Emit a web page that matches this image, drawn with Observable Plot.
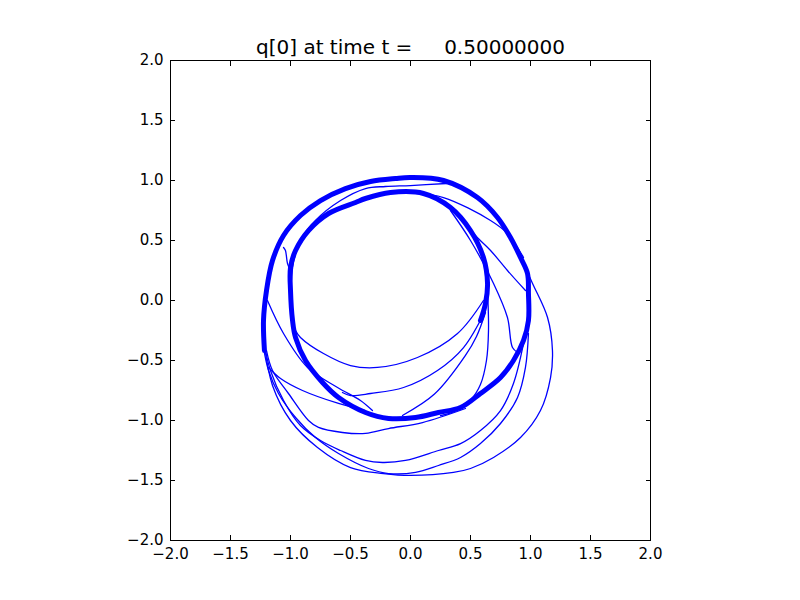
<!DOCTYPE html>
<html><head><meta charset="utf-8">
<script src="https://cdn.jsdelivr.net/npm/d3@7"></script>
<script src="https://cdn.jsdelivr.net/npm/@observablehq/plot@0.6"></script>
<style>body{margin:0;background:#fff} svg text{white-space:pre}</style>
</head><body><div id="chart"></div>
<script>
const xTicks = [-2, -1.5, -1, -0.5, 0, 0.5, 1, 1.5, 2];
const yTicks = [-2, -1.5, -1, -0.5, 0, 0.5, 1, 1.5, 2];
const titleText = "q[0] at time t =     0.50000000";

// thick bundle of coinciding contours (spiral from outer left to inner right)
const spiralThick = [[-1.217,-0.417],[-1.225,-0.167],[-1.2,0.083],[-1.15,0.333],[-1.058,0.542],[-0.917,0.708],[-0.75,0.833],[-0.542,0.933],[-0.333,0.992],[-0.125,1.017],[0,1.025],[0.275,1.0],[0.558,0.858],[0.725,0.692],[0.833,0.525],[0.917,0.358],[0.975,0.225],[0.983,0.058],[0.983,-0.167],[0.942,-0.333],[0.858,-0.5],[0.75,-0.642],[0.583,-0.775],[0.417,-0.892],[0.233,-0.933],[0.042,-0.975],[-0.183,-0.983],[-0.375,-0.933],[-0.6,-0.808],[-0.733,-0.683],[-0.875,-0.5],[-0.958,-0.308],[-0.983,-0.167],[-1.0,0.083],[-1.0,0.275],[-0.958,0.417],[-0.85,0.583],[-0.683,0.725],[-0.458,0.817],[-0.375,0.85],[-0.167,0.9],[0.108,0.892],[0.333,0.775],[0.5,0.583],[0.608,0.358],[0.642,0.142],[0.625,-0.025],[0.583,-0.167]];

// thin contour lines
const curveA = [[0.608,0],[0.392,-0.275],[0.058,-0.475],[-0.275,-0.558],[-0.5,-0.542],[-0.725,-0.442],[-0.917,-0.308],[-0.958,-0.25]];
const curveB = [[0.625,-0.083],[0.442,-0.392],[0.225,-0.583],[-0.058,-0.725],[-0.333,-0.775],[-0.5,-0.792],[-0.567,-0.767]];
const curveB2 = [[0.625,-0.1],[0.55,-0.3],[0.458,-0.458],[0.2,-0.78],[-0.067,-0.958]];
const curveC = [[0.642,0.083],[0.65,-0.25],[0.633,-0.5],[0.583,-0.7],[0.5,-0.83],[0.375,-0.92],[0.25,-0.96]];
const curveD = [[0.333,0.75],[0.5,0.5],[0.692,0.142],[0.808,-0.142],[0.85,-0.392],[0.892,-0.433]];
const curveE1 = [[0.042,0.892],[0.275,0.858],[0.667,0.667],[0.808,0.558],[0.942,0.358]];
const curveE2 = [[0.417,0.708],[0.525,0.558],[0.667,0.417],[0.808,0.25],[0.958,0.083]];
const curveF = [[0.3,0.975],[0,0.958],[-0.208,0.95],[-0.375,0.933],[-0.583,0.833],[-0.792,0.667],[-0.917,0.5],[-0.975,0.317],[-0.992,0.167]];
const curveKink = [[-1.058,0.442],[-1.042,0.417],[-1.025,0.308],[-1.0,0.25]];
const curveG = [[0.917,0.358],[1.017,0.142],[1.142,-0.142],[1.183,-0.417],[1.167,-0.642],[1.083,-0.917],[0.917,-1.142],[0.692,-1.308],[0.5,-1.4],[0.358,-1.433],[0,-1.458],[-0.225,-1.442],[-0.5,-1.392],[-0.775,-1.225],[-1.0,-1.0],[-1.15,-0.708],[-1.217,-0.375]];
const curveH = [[0.983,-0.275],[0.958,-0.558],[0.892,-0.808],[0.75,-1.025],[0.583,-1.192],[0.417,-1.308],[0.233,-1.375],[0.042,-1.433],[-0.183,-1.442],[-0.35,-1.4],[-0.6,-1.275],[-0.792,-1.142],[-0.958,-0.975],[-1.1,-0.775],[-1.183,-0.583],[-1.225,-0.392]];
const curveI = [[0.942,-0.358],[0.858,-0.692],[0.75,-0.917],[0.583,-1.083],[0.417,-1.192],[0.233,-1.25],[-0.042,-1.333],[-0.233,-1.35],[-0.375,-1.333],[-0.583,-1.25],[-0.75,-1.167],[-0.917,-1.042],[-1.058,-0.833],[-1.167,-0.583],[-1.217,-0.375]];
const curveJ = [[-1.2,-0.417],[-1.15,-0.583],[-1.017,-0.775],[-0.85,-1.0],[-0.767,-1.058],[-0.567,-1.1],[-0.375,-1.108],[-0.183,-1.067],[0.1,-1.017],[0.458,-0.9]];
const curveK1 = [[-1.192,0],[-1.058,-0.275],[-0.858,-0.558],[-0.608,-0.725],[-0.417,-0.833],[-0.317,-0.917]];
const curveK2 = [[-1.183,-0.558],[-1.083,-0.65],[-0.9,-0.75],[-0.6,-0.858],[-0.375,-0.917]];

const thinSets = {curveA, curveB, curveB2, curveC, curveD, curveE1, curveE2, curveF, curveKink, curveG, curveH, curveI, curveJ, curveK1, curveK2};
const thinRows = [];
for (const [name, pts] of Object.entries(thinSets)) pts.forEach(([x, y]) => thinRows.push({curve: name, x, y}));
const thickRows = spiralThick.map(([x, y]) => ({curve: "spiral", x, y}));

const fmt = d3.format(".1f");
const blank = () => "";

const chart = Plot.plot({
  width: 800, height: 600,
  marginLeft: 170, marginRight: 150, marginTop: 60, marginBottom: 60,
  x: {domain: [-2, 2]},
  y: {domain: [-2, 2]},
  style: {fontFamily: "'DejaVu Sans', sans-serif", fontSize: "15px", color: "black", background: "white"},
  marks: [
    Plot.line(thinRows, {x: "x", y: "y", z: "curve", stroke: "#0000ff", strokeWidth: 1.3, curve: "catmull-rom"}),
    Plot.line(thickRows, {x: "x", y: "y", z: "curve", stroke: "#0000ff", strokeWidth: 5, strokeLinejoin: "round", curve: "catmull-rom"}),
    Plot.frame({stroke: "black", strokeWidth: 1}),
    Plot.axisX({anchor: "bottom", ticks: xTicks, tickSize: 0, tickPadding: 8, tickFormat: fmt, label: null}),
    Plot.axisX({anchor: "bottom", ticks: xTicks, tickSize: 5, dy: -5, tickFormat: blank, label: null}),
    Plot.axisX({anchor: "top", ticks: xTicks, tickSize: 5, dy: 5, tickFormat: blank, label: null}),
    Plot.axisY({anchor: "left", ticks: yTicks, tickSize: 0, tickPadding: 7, tickFormat: fmt, label: null}),
    Plot.axisY({anchor: "left", ticks: yTicks, tickSize: 5, dx: 5, tickFormat: blank, label: null}),
    Plot.axisY({anchor: "right", ticks: yTicks, tickSize: 5, dx: -5, tickFormat: blank, label: null}),
    Plot.text([titleText], {text: d => d, frameAnchor: "top", lineAnchor: "middle", dy: -13, fontSize: 20})
  ]
});
document.getElementById("chart").appendChild(chart);
</script>
</body></html>
